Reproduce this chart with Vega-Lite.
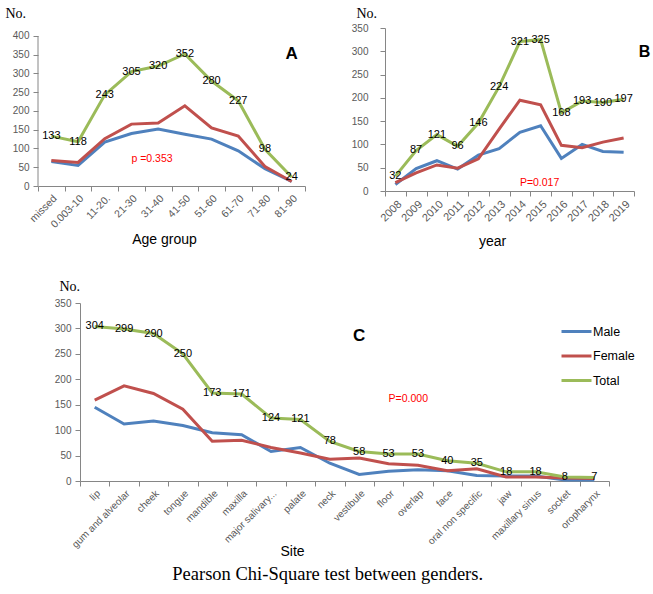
{
  "$schema": "https://vega.github.io/schema/vega-lite/v6.json",
  "background": "white",
  "padding": {"left": 5, "top": 6, "right": 0, "bottom": 5},
  "title": {"text": "Pearson Chi-Square test between genders.", "orient": "bottom", "anchor": "middle", "frame": "bounds", "font": "Liberation Serif", "fontSize": 18.5, "fontWeight": "normal", "color": "#000", "offset": 7},
  "config": {
    "view": {"stroke": null},
    "axis": {"grid": false, "domainColor": "#868686", "tickColor": "#868686", "labelColor": "#595959", "labelFont": "Liberation Sans", "titleFont": "Liberation Sans", "titleFontWeight": "normal", "titleColor": "#000", "tickSize": 5}
  },
  "resolve": {"scale": {"color": "independent"}, "legend": {"color": "independent"}},
  "datasets": {
    "age": [
      {"group": "missed", "Male": 65, "Female": 68, "Total": 133},
      {"group": "0.003-10", "Male": 55, "Female": 63, "Total": 118},
      {"group": "11-20.", "Male": 117, "Female": 126, "Total": 243},
      {"group": "21-30", "Male": 140, "Female": 165, "Total": 305},
      {"group": "31-40", "Male": 152, "Female": 168, "Total": 320},
      {"group": "41-50", "Male": 138, "Female": 214, "Total": 352},
      {"group": "51-60", "Male": 125, "Female": 155, "Total": 280},
      {"group": "61-70", "Male": 94, "Female": 133, "Total": 227},
      {"group": "71-80", "Male": 46, "Female": 52, "Total": 98},
      {"group": "81-90", "Male": 12, "Female": 12, "Total": 24}
    ],
    "year": [
      {"year": "2008", "Male": 14, "Female": 18, "Total": 32},
      {"year": "2009", "Male": 48, "Female": 39, "Total": 87},
      {"year": "2010", "Male": 65, "Female": 56, "Total": 121},
      {"year": "2011", "Male": 47, "Female": 49, "Total": 96},
      {"year": "2012", "Male": 77, "Female": 69, "Total": 146},
      {"year": "2013", "Male": 91, "Female": 133, "Total": 224},
      {"year": "2014", "Male": 126, "Female": 195, "Total": 321},
      {"year": "2015", "Male": 140, "Female": 185, "Total": 325},
      {"year": "2016", "Male": 70, "Female": 98, "Total": 168},
      {"year": "2017", "Male": 100, "Female": 93, "Total": 193},
      {"year": "2018", "Male": 85, "Female": 105, "Total": 190},
      {"year": "2019", "Male": 83, "Female": 114, "Total": 197}
    ],
    "site": [
      {"site": "lip", "Male": 145, "Female": 159, "Total": 304},
      {"site": "gum and alveolar", "Male": 112, "Female": 187, "Total": 299},
      {"site": "cheek", "Male": 118, "Female": 172, "Total": 290},
      {"site": "tongue", "Male": 109, "Female": 141, "Total": 250},
      {"site": "mandible", "Male": 95, "Female": 78, "Total": 173},
      {"site": "maxilla", "Male": 91, "Female": 80, "Total": 171},
      {"site": "major salivary...", "Male": 58, "Female": 66, "Total": 124},
      {"site": "palate", "Male": 66, "Female": 55, "Total": 121},
      {"site": "neck", "Male": 35, "Female": 43, "Total": 78},
      {"site": "vestibule", "Male": 13, "Female": 45, "Total": 58},
      {"site": "floor", "Male": 19, "Female": 34, "Total": 53},
      {"site": "overlap", "Male": 22, "Female": 31, "Total": 53},
      {"site": "face", "Male": 20, "Female": 20, "Total": 40},
      {"site": "oral non specific", "Male": 11, "Female": 24, "Total": 35},
      {"site": "jaw", "Male": 10, "Female": 8, "Total": 18},
      {"site": "maxillary sinus", "Male": 10, "Female": 8, "Total": 18},
      {"site": "socket", "Male": 2, "Female": 6, "Total": 8},
      {"site": "oropharynx", "Male": 2, "Female": 5, "Total": 7}
    ]
  },
  "spacing": 31,
  "vconcat": [
    {
      "spacing": 45,
      "align": "none",
      "resolve": {"scale": {"color": "independent"}, "legend": {"color": "independent"}},
      "hconcat": [
        {
          "width": 267,
          "height": 158,
          "data": {"name": "age"},
          "encoding": {
            "x": {"field": "group", "type": "ordinal", "bandPosition": 0.5,
              "scale": {"type": "band", "paddingInner": 0, "paddingOuter": 0, "domain": ["missed", "0.003-10", "11-20.", "21-30", "31-40", "41-50", "51-60", "61-70", "71-80", "81-90"]},
              "axis": {"title": "Age group", "labelAngle": -45, "labelAlign": "right", "labelBaseline": "top", "labelFontSize": 10.5, "tickBand": "extent", "titleX": 126, "titleY": 57, "titleFontSize": 14, "titleAlign": "center", "titleBaseline": "alphabetic"}},
            "y": {"field": "value", "type": "quantitative", "scale": {"domain": [0, 421.33], "nice": false},
              "axis": {"values": [0, 50, 100, 150, 200, 250, 300, 350, 400], "domain": false, "title": "No.", "titleAngle": 0, "titleX": -33, "titleY": -11, "titleAlign": "left", "titleBaseline": "alphabetic", "titleFont": "Liberation Serif", "titleFontSize": 14, "labelFontSize": 10, "labelPadding": 4}}
          },
          "layer": [
            {"data": {"values": [{"group": "missed", "value": 0, "value2": 400}]},
              "mark": {"type": "rule", "color": "#868686", "strokeWidth": 1},
              "encoding": {"x": {"field": "group", "type": "ordinal", "bandPosition": 0}, "y2": {"field": "value2"}}},
            {"transform": [{"fold": ["Male", "Female", "Total"], "as": ["series", "value"]}],
              "mark": {"type": "line", "strokeWidth": 3},
              "encoding": {"color": {"field": "series", "type": "nominal", "scale": {"domain": ["Male", "Female", "Total"], "range": ["#4f81bd", "#c0504d", "#9bbb59"]}, "legend": null}}},
            {"transform": [{"fold": ["Total"], "as": ["series", "value"]}],
              "mark": {"type": "text", "fontSize": 11, "font": "Liberation Sans", "color": "#000", "baseline": "middle"},
              "encoding": {"text": {"field": "value", "type": "quantitative"}}},
            {"data": {"values": [{"group": "81-90", "value": 352, "label": "A"}]},
              "mark": {"type": "text", "fontSize": 17, "fontWeight": "bold", "font": "Liberation Sans", "color": "#000", "baseline": "middle"},
              "encoding": {"text": {"field": "label"}}},
            {"data": {"values": [{"group": "21-30", "value": 72, "label": "p =0.353"}]},
              "mark": {"type": "text", "fontSize": 10.5, "font": "Liberation Sans", "color": "#ff0000", "align": "left", "baseline": "middle"},
              "encoding": {"text": {"field": "label"}}}
          ]
        },
        {
          "width": 249,
          "height": 163,
          "data": {"name": "year"},
          "encoding": {
            "x": {"field": "year", "type": "ordinal", "bandPosition": 0.5,
              "scale": {"type": "band", "paddingInner": 0, "paddingOuter": 0, "domain": ["2008", "2009", "2010", "2011", "2012", "2013", "2014", "2015", "2016", "2017", "2018", "2019"]},
              "axis": {"title": "year", "labelAngle": -45, "labelAlign": "right", "labelBaseline": "top", "labelFontSize": 11, "tickBand": "extent", "titleX": 107, "titleY": 54, "titleFontSize": 14, "titleAlign": "center", "titleBaseline": "alphabetic"}},
            "y": {"field": "value", "type": "quantitative", "scale": {"domain": [0, 350]},
              "axis": {"values": [0, 50, 100, 150, 200, 250, 300, 350], "title": "No.", "titleAngle": 0, "titleX": -29, "titleY": -11, "titleAlign": "left", "titleBaseline": "alphabetic", "titleFont": "Liberation Serif", "titleFontSize": 14, "labelFontSize": 10, "labelPadding": 12}}
          },
          "layer": [
            {"transform": [{"fold": ["Male", "Female", "Total"], "as": ["series", "value"]}],
              "mark": {"type": "line", "strokeWidth": 3},
              "encoding": {"color": {"field": "series", "type": "nominal", "scale": {"domain": ["Male", "Female", "Total"], "range": ["#4f81bd", "#c0504d", "#9bbb59"]}, "legend": null}}},
            {"transform": [{"fold": ["Total"], "as": ["series", "value"]}],
              "mark": {"type": "text", "fontSize": 11, "font": "Liberation Sans", "color": "#000", "baseline": "middle"},
              "encoding": {"text": {"field": "value", "type": "quantitative"}}},
            {"data": {"values": [{"year": "2019", "value": 298, "label": "B"}]},
              "mark": {"type": "text", "fontSize": 16, "fontWeight": "bold", "font": "Liberation Sans", "color": "#000", "baseline": "middle", "dx": 21},
              "encoding": {"text": {"field": "label"}}},
            {"data": {"values": [{"year": "2014", "value": 18, "label": "P=0.017"}]},
              "mark": {"type": "text", "fontSize": 10.5, "font": "Liberation Sans", "color": "#ff0000", "align": "left", "baseline": "middle"},
              "encoding": {"text": {"field": "label"}}}
          ]
        }
      ]
    },
    {
      "spacing": 1,
      "align": "none",
      "resolve": {"scale": {"color": "independent"}, "legend": {"color": "independent"}},
      "hconcat": [
        {"width": 15, "height": 10, "data": {"values": []}, "mark": "point"},
        {
          "width": 529,
          "height": 178,
          "data": {"name": "site"},
          "encoding": {
            "x": {"field": "site", "type": "ordinal", "bandPosition": 0.5,
              "scale": {"type": "band", "paddingInner": 0, "paddingOuter": 0, "domain": ["lip", "gum and alveolar", "cheek", "tongue", "mandible", "maxilla", "major salivary...", "palate", "neck", "vestibule", "floor", "overlap", "face", "oral non specific", "jaw", "maxillary sinus", "socket", "oropharynx"]},
              "axis": {"title": "Site", "labelAngle": -45, "labelAlign": "right", "labelBaseline": "top", "labelFontSize": 10, "tickBand": "extent", "titleX": 212, "titleY": 74, "titleFontSize": 14, "titleAlign": "center", "titleBaseline": "alphabetic"}},
            "y": {"field": "value", "type": "quantitative", "scale": {"domain": [0, 350]},
              "axis": {"values": [0, 50, 100, 150, 200, 250, 300, 350], "title": "No.", "titleAngle": 0, "titleX": -21, "titleY": -13, "titleAlign": "left", "titleBaseline": "alphabetic", "titleFont": "Liberation Serif", "titleFontSize": 14, "labelFontSize": 10, "labelPadding": 4}}
          },
          "layer": [
            {"transform": [{"fold": ["Male", "Female", "Total"], "as": ["series", "value"]}],
              "mark": {"type": "line", "strokeWidth": 3},
              "encoding": {"color": {"field": "series", "type": "nominal", "scale": {"domain": ["Male", "Female", "Total"], "range": ["#4f81bd", "#c0504d", "#9bbb59"]},
                "legend": {"orient": "none", "legendX": 480, "legendY": 12, "title": null, "padding": 0, "symbolType": "stroke", "symbolSize": 900, "symbolStrokeWidth": 3, "labelFontSize": 12.5, "labelFont": "Liberation Sans", "labelColor": "#000", "labelOffset": 0, "rowPadding": 1.5}}}},
            {"transform": [{"fold": ["Total"], "as": ["series", "value"]}],
              "mark": {"type": "text", "fontSize": 11, "font": "Liberation Sans", "color": "#000", "baseline": "middle"},
              "encoding": {"text": {"field": "value", "type": "quantitative"}}},
            {"data": {"values": [{"site": "vestibule", "value": 285, "label": "C"}]},
              "mark": {"type": "text", "fontSize": 17, "fontWeight": "bold", "font": "Liberation Sans", "color": "#000", "baseline": "middle"},
              "encoding": {"text": {"field": "label"}}},
            {"data": {"values": [{"site": "floor", "value": 161, "label": "P=0.000"}]},
              "mark": {"type": "text", "fontSize": 10.5, "font": "Liberation Sans", "color": "#ff0000", "align": "left", "baseline": "middle"},
              "encoding": {"text": {"field": "label"}}}
          ]
        }
      ]
    }
  ]
}
